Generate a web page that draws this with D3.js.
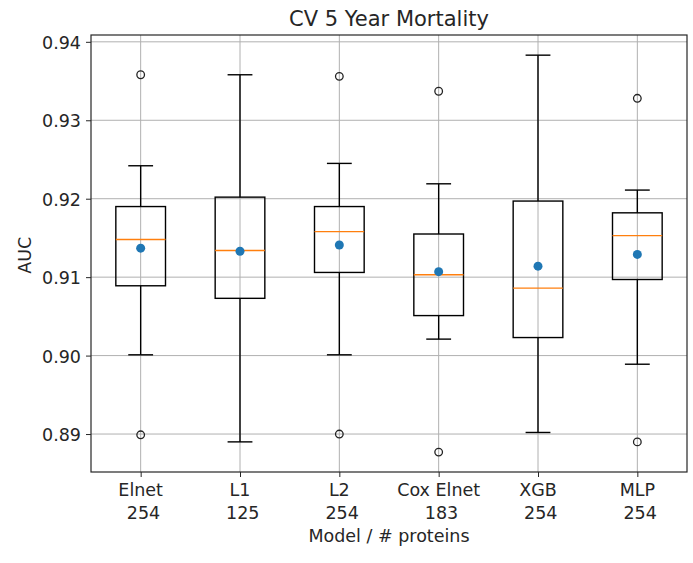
<!DOCTYPE html>
<html>
<head>
<meta charset="utf-8">
<script src="https://cdn.jsdelivr.net/npm/d3@7"></script>
<style>
  html, body { margin: 0; padding: 0; background: #fff; }
  svg { display: block; font-family: "DejaVu Sans", sans-serif; }
</style>
</head>
<body>
<svg id="chart" width="693" height="563"></svg>
<script>
// ---- Data ----
const models = ["Elnet", "L1", "L2", "Cox Elnet", "XGB", "MLP"];
const proteins = ["254", "125", "254", "183", "254", "254"];
const whiskerLow  = [0.9001, 0.8890, 0.9001, 0.9021, 0.8902, 0.8989];
const q1          = [0.9089, 0.9073, 0.9106, 0.9051, 0.9023, 0.9097];
const medians     = [0.9148, 0.9134, 0.9158, 0.9103, 0.9086, 0.9153];
const q3          = [0.9190, 0.9202, 0.9190, 0.9155, 0.9197, 0.9182];
const whiskerHigh = [0.9242, 0.9358, 0.9245, 0.9219, 0.9383, 0.9211];
const means       = [0.9137, 0.9133, 0.9141, 0.9107, 0.9114, 0.9129];
const outliers    = [[0.9358, 0.8899], [], [0.9356, 0.8900], [0.9337, 0.8877], [], [0.9328, 0.8890]];
const yTicks = [0.89, 0.90, 0.91, 0.92, 0.93, 0.94];

// ---- Layout ----
const margin = { left: 91, right: 6, top: 35, bottom: 91 };
const W = 693, H = 563;
const svg = d3.select("#chart");
const iw = W - margin.left - margin.right;
const ih = H - margin.top - margin.bottom;

const x = d3.scaleLinear().domain([0.5, models.length + 0.5]).range([margin.left, margin.left + iw]);
const y = d3.scaleLinear().domain([0.88516, 0.94087]).range([margin.top + ih, margin.top]);

const idx = d3.range(models.length);
const gridColor = "#b0b0b0";
const ink = "#262626";
const fs = "17.5px";

// grid
const g = svg.append("g");
g.selectAll("line.hg").data(yTicks).join("line")
  .attr("x1", margin.left).attr("x2", margin.left + iw)
  .attr("y1", d => y(d)).attr("y2", d => y(d))
  .attr("stroke", gridColor).attr("stroke-width", 1);
g.selectAll("line.vg").data(idx).join("line")
  .attr("x1", i => x(i + 1)).attr("x2", i => x(i + 1))
  .attr("y1", margin.top).attr("y2", margin.top + ih)
  .attr("stroke", gridColor).attr("stroke-width", 1);

// axes
const yAxis = d3.axisLeft(y).tickValues(yTicks).tickFormat(d3.format(".2f")).tickSize(5).tickPadding(5);
const ya = svg.append("g").attr("transform", `translate(${margin.left},0)`).call(yAxis);
const xAxis = d3.axisBottom(x).tickValues(idx.map(i => i + 1)).tickFormat("").tickSize(5);
const xa = svg.append("g").attr("transform", `translate(0,${margin.top + ih})`).call(xAxis);
[ya, xa].forEach(a => {
  a.select(".domain").remove();
  a.selectAll(".tick line").attr("stroke", ink).attr("stroke-width", 1);
  a.selectAll("text").attr("fill", ink).style("font-size", fs).style("font-family", "DejaVu Sans");
});
ya.selectAll("text").attr("dy", "0.38em");

// x tick labels (two lines; second line carries a leading space in the original)
const xl = svg.append("g");
idx.forEach(i => {
  const t = xl.append("text").attr("x", x(i + 1)).attr("y", 496)
    .attr("text-anchor", "middle").attr("fill", ink).style("font-size", fs);
  t.append("tspan").attr("x", x(i + 1)).text(models[i]);
  t.append("tspan").attr("x", x(i + 1) + 2.8).attr("dy", 22.5).text(proteins[i]);
});

// boxes
const bw = x(1.25) - x(1);   // half box width
const cw = x(1.125) - x(1);  // half cap width
const lw = 1.4;
const boxes = svg.append("g");
idx.forEach(i => {
  const cx = x(i + 1);
  const bgrp = boxes.append("g");
  bgrp.append("line").attr("x1", cx).attr("x2", cx).attr("y1", y(q3[i])).attr("y2", y(whiskerHigh[i])).attr("stroke", "#000").attr("stroke-width", lw);
  bgrp.append("line").attr("x1", cx).attr("x2", cx).attr("y1", y(q1[i])).attr("y2", y(whiskerLow[i])).attr("stroke", "#000").attr("stroke-width", lw);
  bgrp.append("line").attr("x1", cx - cw).attr("x2", cx + cw).attr("y1", y(whiskerHigh[i])).attr("y2", y(whiskerHigh[i])).attr("stroke", "#000").attr("stroke-width", lw);
  bgrp.append("line").attr("x1", cx - cw).attr("x2", cx + cw).attr("y1", y(whiskerLow[i])).attr("y2", y(whiskerLow[i])).attr("stroke", "#000").attr("stroke-width", lw);
  bgrp.append("rect").attr("x", cx - bw).attr("width", 2 * bw)
    .attr("y", y(q3[i])).attr("height", y(q1[i]) - y(q3[i]))
    .attr("fill", "none").attr("stroke", "#000").attr("stroke-width", lw);
  bgrp.append("line").attr("x1", cx - bw).attr("x2", cx + bw).attr("y1", y(medians[i])).attr("y2", y(medians[i]))
    .attr("stroke", "#ff7f0e").attr("stroke-width", lw);
  outliers[i].forEach(v => {
    bgrp.append("circle").attr("cx", cx).attr("cy", y(v)).attr("r", 3.8)
      .attr("fill", "none").attr("stroke", "#222").attr("stroke-width", 1.3);
  });
  bgrp.append("circle").attr("cx", cx).attr("cy", y(means[i])).attr("r", 4.5).attr("fill", "#1f77b4");
});

// frame
svg.append("rect").attr("x", margin.left).attr("y", margin.top).attr("width", iw).attr("height", ih)
  .attr("fill", "none").attr("stroke", ink).attr("stroke-width", 1.2);

// title and labels
svg.append("text").attr("x", x(3.5)).attr("y", 26).attr("text-anchor", "middle")
  .attr("fill", ink).style("font-size", "21px").text("CV 5 Year Mortality");
svg.append("text").attr("x", x(3.5)).attr("y", 542).attr("text-anchor", "middle")
  .attr("fill", ink).style("font-size", fs).text("Model / # proteins");
svg.append("text").attr("transform", `translate(31,${y(0.9128)}) rotate(-90)`).attr("text-anchor", "middle")
  .attr("fill", ink).style("font-size", fs).text("AUC");
</script>
</body>
</html>
